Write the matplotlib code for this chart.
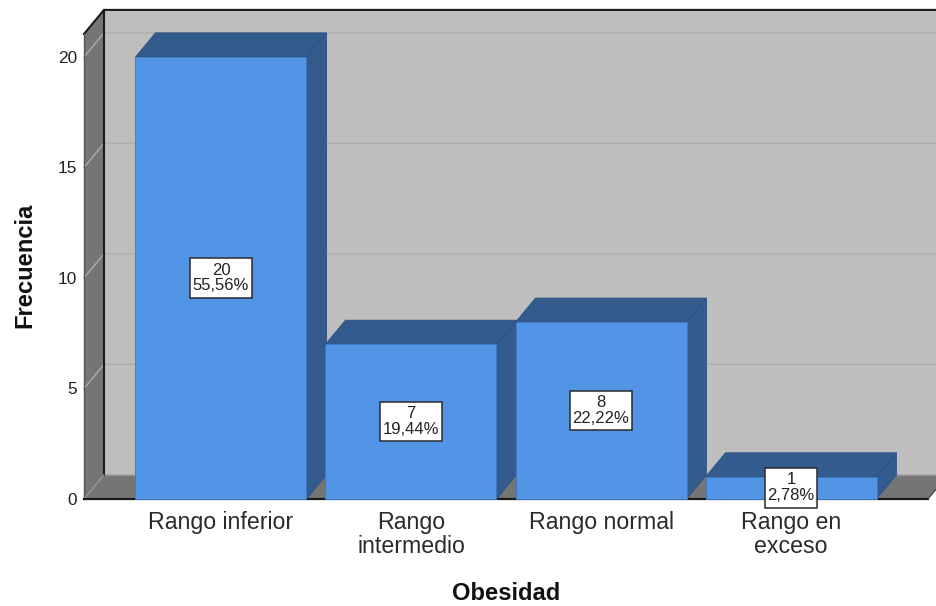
import matplotlib
matplotlib.use("Agg")
import matplotlib.pyplot as plt
from matplotlib.patches import Polygon
from matplotlib.path import Path

categories = ["Rango inferior", "Rango\nintermedio", "Rango normal", "Rango en\nexceso"]
counts = [20, 7, 8, 1]
percents = ["55,56%", "19,44%", "22,22%", "2,78%"]
y_ticks = [0, 5, 10, 15, 20]

FRONT = "#5294e6"
SIDE = "#335b8e"
WALL = "#bebebe"
SHADE = "#757575"
GRID = "#adadad"

bar_width = 0.9
depth_x = 0.105
depth_y = 1.09
x_min, x_max = -0.721, 3.721
y_max = 21.04

plt.rcParams["font.family"] = ["Liberation Sans", "DejaVu Sans"]

fig = plt.figure(figsize=(9.36, 6.06), dpi=100)
ax = fig.add_axes([84 / 936, 107 / 606, 844 / 936, 465 / 606])
ax.set_xlim(x_min, x_max)
ax.set_ylim(0, y_max)
for s in ax.spines.values():
    s.set_visible(False)
ax.patch.set_visible(False)


def poly(points, color, z, edge="none", lw=0.0):
    ax.add_patch(Polygon(points, closed=True, facecolor=color, edgecolor=edge,
                         linewidth=lw, zorder=z, clip_on=False))


def label_box(x0, y0, width, height, mutation_size):
    # rectangle with less padding at the sides than above and below
    px = 0.15 * mutation_size
    py = 0.26 * mutation_size
    return Path([(x0 - px, y0 - py), (x0 + width + px, y0 - py),
                 (x0 + width + px, y0 + height + py), (x0 - px, y0 + height + py),
                 (x0 - px, y0 - py)], closed=True)


# walls and floor of the box
right = x_max + depth_x
poly([(x_min + depth_x, depth_y), (right, depth_y), (right, y_max + depth_y),
      (x_min + depth_x, y_max + depth_y)], WALL, 1)
poly([(x_min, 0), (x_min + depth_x, depth_y), (x_min + depth_x, y_max + depth_y),
      (x_min, y_max)], SHADE, 1)
poly([(x_min, 0), (x_max, 0), (right, depth_y), (x_min + depth_x, depth_y)], SHADE, 1)

# gridlines run along the left wall and the back wall
for t in y_ticks[1:]:
    ax.plot([x_min, x_min + depth_x, right], [t, t + depth_y, t + depth_y],
            color=GRID, lw=1.0, zorder=2, clip_on=False)

# box outline
ax.plot([x_min, x_min + depth_x, right], [y_max, y_max + depth_y, y_max + depth_y],
        color="#1a1a1a", lw=1.5, zorder=3, clip_on=False)
ax.plot([x_min + depth_x, x_min + depth_x], [depth_y, y_max + depth_y],
        color="#1a1a1a", lw=1.5, zorder=3, clip_on=False)
ax.plot([x_min, x_min], [0, y_max], color="#555555", lw=1.0, zorder=3, clip_on=False)
ax.plot([x_min, x_min + depth_x], [0, depth_y], color="#9a9a9a", lw=0.8, zorder=3, clip_on=False)
ax.plot([x_min + depth_x, right], [depth_y, depth_y], color="#8f8f8f", lw=1.0, zorder=2, clip_on=False)
ax.plot([x_min, x_max], [0, 0], color="#1a1a1a", lw=1.6, zorder=3, clip_on=False)
ax.plot([x_max, right], [0, depth_y], color="#3a3a3a", lw=0.8, zorder=3, clip_on=False)

# bars, each with a top face and a side face
for i, v in enumerate(counts):
    x0 = i - bar_width / 2
    x1 = i + bar_width / 2
    z = 4 + i
    poly([(x1, 0), (x1 + depth_x, depth_y), (x1 + depth_x, v + depth_y), (x1, v)],
         SIDE, z, "#2d5081", 0.6)
    poly([(x0, v), (x1, v), (x1 + depth_x, v + depth_y), (x0 + depth_x, v + depth_y)],
         SIDE, z, "#2d5081", 0.6)
    ax.bar(i, v, width=bar_width, color=FRONT, edgecolor="#3f78c0", linewidth=0.6,
           zorder=z + 0.5, clip_on=False)

for i, v in enumerate(counts):
    ax.text(i, v / 2, f"{v}\n{percents[i]}", ha="center", va="center", fontsize=12,
            linespacing=1.08, color="#222222", zorder=20, clip_on=False,
            bbox=dict(boxstyle=label_box, facecolor="white",
                      edgecolor="#2a2a2a", linewidth=1.1))

ax.set_xticks(range(len(categories)))
ax.set_xticklabels(categories, fontsize=16.7, color="#2a2a2a", linespacing=1.04)
ax.set_yticks(y_ticks)
ax.set_yticklabels([str(t) for t in y_ticks], fontsize=12.4, color="#222222")
ax.tick_params(axis="x", length=0, pad=9)
ax.tick_params(axis="y", length=0, pad=5)

fig.text(25 / 936, 1 - 265 / 606, "Frecuencia", rotation=90, ha="center", va="center",
         fontsize=17.1, fontweight="bold", color="#111111")
fig.text(506 / 936, 1 - 593 / 606, "Obesidad", ha="center", va="center",
         fontsize=17.1, fontweight="bold", color="#111111")

fig.savefig("out.png", dpi=100)
